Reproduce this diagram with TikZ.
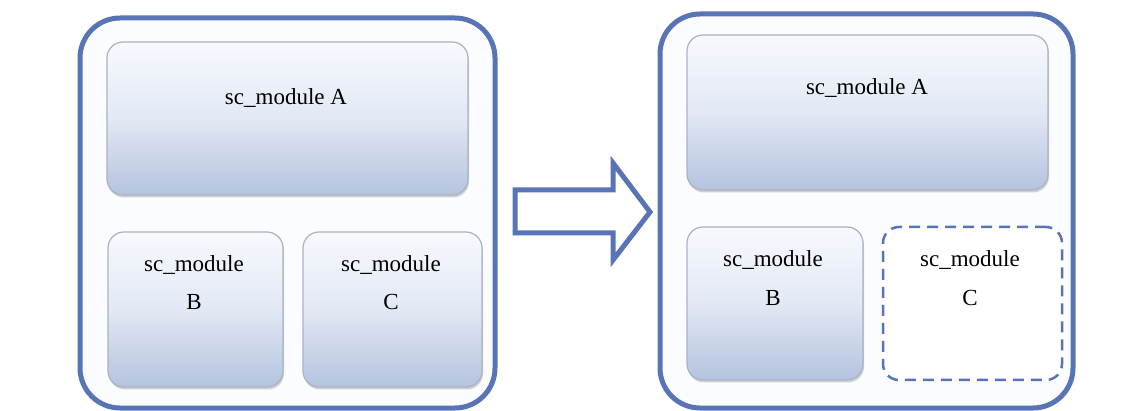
\documentclass[tikz,border=0pt]{standalone}
\usepackage{fontspec}
\setmainfont{Liberation Serif}
\usetikzlibrary{shadows}
\definecolor{frameblue}{RGB}{88,116,182}
\definecolor{boxtop}{RGB}{247,249,253}
\definecolor{boxmid}{RGB}{226,232,244}
\definecolor{boxbot}{RGB}{180,195,223}
\definecolor{boxedge}{RGB}{170,178,196}
\definecolor{outerfill}{RGB}{251,252,255}
\tikzset{
  outerbox/.style={draw=frameblue, line width=5pt, rounded corners=40pt, fill=outerfill},
  modbox/.style={draw=boxedge, line width=1.2pt, rounded corners=16pt,
    top color=boxtop, bottom color=boxbot, middle color=boxmid,
    drop shadow={shadow xshift=1pt, shadow yshift=-2.5pt, opacity=.35, fill=gray}},
  ghostbox/.style={draw=frameblue, line width=2.5pt, dash pattern=on 11pt off 7pt, rounded corners=16pt, fill=white},
  lbl/.style={font=\fontsize{23}{27}\selectfont, inner sep=0pt, anchor=base},
  bigarrow/.style={draw=frameblue, line width=5pt, fill=white, line join=miter}
}
\begin{document}
\begin{tikzpicture}[x=1pt,y=-1pt]
\useasboundingbox[fill=white] (0,0) rectangle (1135,411);
% left side
\draw[outerbox] (80,18) rectangle (495,408);
\node[modbox, minimum width=361pt, minimum height=153pt, inner sep=0pt] (LA) at (287.5,118.5) {};
\node[modbox, minimum width=175pt, minimum height=155pt, inner sep=0pt] (LB) at (195.5,309.5) {};
\node[modbox, minimum width=179pt, minimum height=155pt, inner sep=0pt] (LC) at (392.5,309.5) {};
\node[lbl] (LAt) at (286,105) {sc\_module A};
\node[lbl] (LBt) at (194,272) {sc\_module};
\node[lbl] (LBl) at (194,310) {B};
\node[lbl] (LCt) at (391,272) {sc\_module};
\node[lbl] (LCl) at (391,310) {C};
% arrow
\coordinate (p1) at (515,190);
\coordinate (p2) at (613,190);
\coordinate (p3) at (613,163);
\coordinate (p4) at (650,212);
\coordinate (p5) at (613,260);
\coordinate (p6) at (613,233);
\coordinate (p7) at (515,233);
\draw[bigarrow] (p1) -- (p2) -- (p3) -- (p4) -- (p5) -- (p6) -- (p7) -- cycle;
% right side
\draw[outerbox] (660,14) rectangle (1073,408);
\node[modbox, minimum width=361pt, minimum height=155pt, inner sep=0pt] (RA) at (867.5,112.5) {};
\node[modbox, minimum width=176pt, minimum height=153pt, inner sep=0pt] (RB) at (775,303.5) {};
\node[ghostbox, minimum width=179pt, minimum height=153pt, inner sep=0pt] (RC) at (972.5,303.5) {};
\node[lbl] (RAt) at (867,95) {sc\_module A};
\node[lbl] (RBt) at (773,267) {sc\_module};
\node[lbl] (RBl) at (773,306) {B};
\node[lbl] (RCt) at (970,267) {sc\_module};
\node[lbl] (RCl) at (970,306) {C};
\end{tikzpicture}
\end{document}
